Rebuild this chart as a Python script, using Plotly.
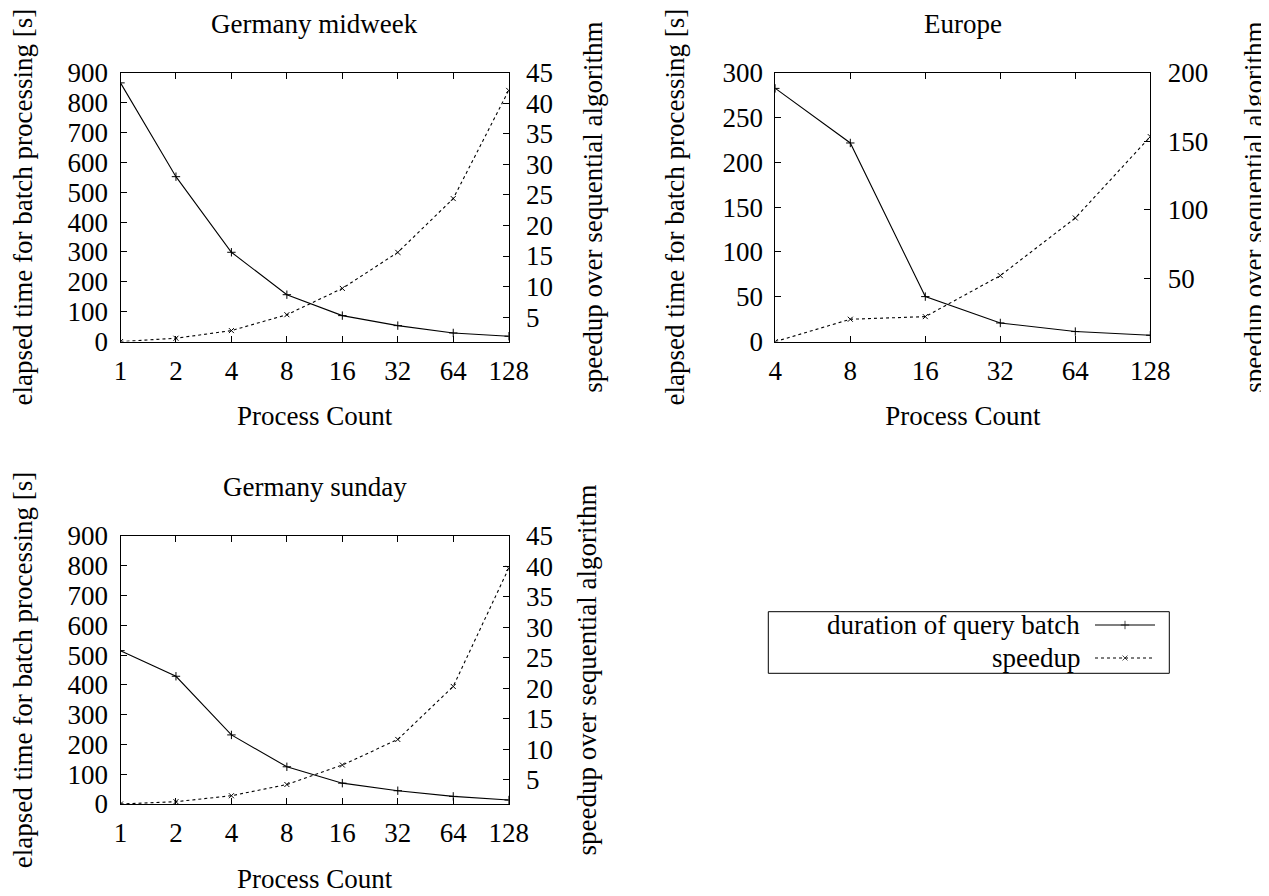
import math
import plotly.graph_objects as go

# ---------------- data ----------------
procs_mid = [1, 2, 4, 8, 16, 32, 64, 128]
dur_mid = [866, 552, 299, 157, 87, 53.5, 29, 18]
spd_mid = [1.0, 1.55, 2.8, 5.4, 9.7, 15.6, 24.4, 42.1]

procs_eu = [4, 8, 16, 32, 64, 128]
dur_eu = [282.5, 221.6, 50.2, 20.8, 11.2, 7.1]
spd_eu = [4.0, 20.3, 22.2, 52.1, 94.1, 153.4]

procs_sun = [1, 2, 4, 8, 16, 32, 64, 128]
dur_sun = [515, 429, 232, 125, 70, 44.6, 25.6, 13.4]
spd_sun = [1.0, 1.38, 2.36, 4.2, 7.4, 11.6, 20.3, 39.7]

titles = ["Germany midweek", "Europe", "Germany sunday"]
xlabel = "Process Count"
ylabel_left = "elapsed time for batch processing [s]"
ylabel_right = "speedup over sequential algorithm"
series_names = ["duration of query batch", "speedup"]

# ---------------- style ----------------
# the page body has an 8px margin; size the figure to fit the 1269x896 window exactly
OFF = 8
W, H = 1269 - OFF, 896 - OFF
FONT = "Liberation Serif"
FS = 27


def fx(sx):
    return (sx - OFF) / W


def fy(sy):
    return 1 - (sy - OFF) / H


dom_x_left = [fx(120.5), fx(508.7)]
dom_x_right = [fx(775.3), fx(1150.3)]
dom_y_top = [fy(341.6), fy(72.7)]
dom_y_bot = [fy(804.0), fy(536.0)]

axis_common = dict(
    showline=True, linecolor="black", linewidth=1,
    ticks="inside", ticklen=6, tickcolor="black", tickwidth=1,
    showgrid=False, zeroline=False, automargin=False,
    tickfont=dict(family=FONT, size=FS, color="black"),
    title_font=dict(family=FONT, size=FS, color="black"),
)

fig = go.Figure()

solid_style = dict(mode="lines+markers", line=dict(color="black", width=1.1),
                   marker=dict(symbol="cross-thin", size=6, color="black",
                               line=dict(color="black", width=1)),
                   showlegend=False, hoverinfo="skip")
dash_style = dict(mode="lines+markers", line=dict(color="black", width=1.1, dash="3px,3px"),
                  marker=dict(symbol="x-thin", size=5, color="black",
                              line=dict(color="black", width=1)),
                  showlegend=False, hoverinfo="skip")

panels = [
    (procs_mid, dur_mid, spd_mid, "x", "y", "y2"),
    (procs_eu, dur_eu, spd_eu, "x2", "y3", "y4"),
    (procs_sun, dur_sun, spd_sun, "x3", "y5", "y6"),
]
for px_, d, s, xa, ya, ya2 in panels:
    fig.add_trace(go.Scatter(x=px_, y=d, xaxis=xa, yaxis=ya, name=series_names[0], **solid_style))
    fig.add_trace(go.Scatter(x=px_, y=s, xaxis=xa, yaxis=ya2, name=series_names[1], **dash_style))


def xaxis_cfg(domain, anchor, procs):
    return dict(axis_common, type="log", domain=domain, anchor=anchor,
                range=[math.log10(procs[0]), math.log10(procs[-1])],
                tickvals=procs, ticktext=[str(p) for p in procs],
                mirror="ticks", ticklabelstandoff=5,
                title=dict(text=xlabel, standoff=21))


def yleft_cfg(domain, anchor, rng, dtick, standoff):
    return dict(axis_common, domain=domain, anchor=anchor, range=rng,
                tick0=0, dtick=dtick, side="left", ticklabelstandoff=6,
                title=dict(text=ylabel_left, standoff=standoff))


def yright_cfg(overlay, anchor, rng, tick0, dtick, standoff):
    return dict(axis_common, overlaying=overlay, anchor=anchor, range=rng,
                tick0=tick0, dtick=dtick, side="right", ticklabelstandoff=11,
                title=dict(text=ylabel_right, standoff=standoff))


fig.update_layout(
    xaxis=xaxis_cfg(dom_x_left, "y", procs_mid),
    yaxis=yleft_cfg(dom_y_top, "x", [0, 900], 100, 33),
    yaxis2=yright_cfg("y", "x", [1, 45], 0, 5, 31),
    xaxis2=xaxis_cfg(dom_x_right, "y3", procs_eu),
    yaxis3=yleft_cfg(dom_y_top, "x2", [0, 300], 50, 29),
    yaxis4=yright_cfg("y3", "x2", [4, 200], 0, 50, 36),
    xaxis3=xaxis_cfg(dom_x_left, "y5", procs_sun),
    yaxis5=yleft_cfg(dom_y_bot, "x3", [0, 900], 100, 37),
    yaxis6=yright_cfg("y5", "x3", [1, 45], 0, 5, 25),
)

# ---------------- custom legend (text left, sample right, gnuplot style) ----------------
leg_x0, leg_x1 = fx(768.3), fx(1169.3)
leg_y0, leg_y1 = fy(673.3), fy(611.7)
row1_y = fy(625)
row2_y = fy(658)

fig.update_layout(
    xaxis4=dict(domain=[fx(1095), fx(1155)], anchor="y7", range=[0, 1], visible=False,
                fixedrange=True, automargin=False),
    yaxis7=dict(domain=[leg_y0, leg_y1], anchor="x4", range=[leg_y0, leg_y1], visible=False,
                fixedrange=True, automargin=False),
)
sample_x = [0, 0.5, 1]
for yy, st in ((row1_y, solid_style), (row2_y, dash_style)):
    mk = dict(st["marker"])
    mk["size"] = [0, mk["size"], 0]
    st2 = dict(st)
    st2["marker"] = mk
    fig.add_trace(go.Scatter(x=sample_x, y=[yy] * 3, xaxis="x4", yaxis="y7", **st2))

fig.add_shape(type="rect", xref="paper", yref="paper", x0=leg_x0, x1=leg_x1, y0=leg_y0, y1=leg_y1,
              line=dict(color="black", width=1), fillcolor="rgba(0,0,0,0)")
for txt, yy in zip(series_names, (row1_y, row2_y)):
    fig.add_annotation(text=txt, xref="paper", yref="paper", x=fx(1081.7), y=yy,
                       xanchor="right", yanchor="middle", showarrow=False,
                       font=dict(family=FONT, size=FS, color="black"))

# ---------------- subplot titles ----------------
title_pos = [((120.5 + 508.7) / 2, 24), ((775.3 + 1150.3) / 2, 24), ((120.5 + 508.7) / 2, 487)]
for t, (cx, cy) in zip(titles, title_pos):
    fig.add_annotation(text=t, xref="paper", yref="paper", x=fx(cx), y=fy(cy),
                       xanchor="center", yanchor="middle", showarrow=False,
                       font=dict(family=FONT, size=FS, color="black"))

fig.update_layout(
    width=W, height=H, autosize=False,
    margin=dict(l=0, r=0, t=0, b=0, pad=0),
    paper_bgcolor="white", plot_bgcolor="white",
    font=dict(family=FONT, size=FS, color="black"),
    showlegend=False,
)

fig.write_html("out.html")
